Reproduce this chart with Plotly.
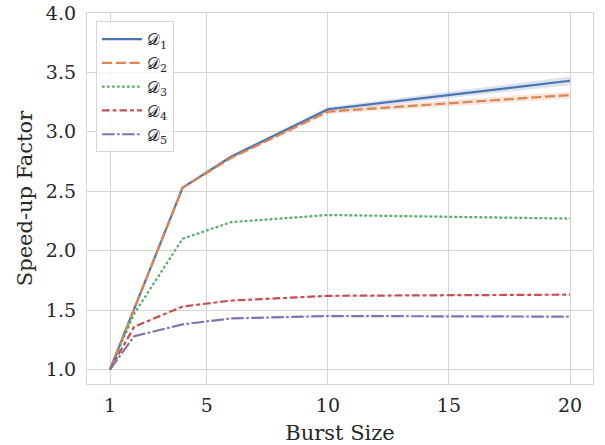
import plotly.graph_objects as go

burst = [1, 2, 4, 6, 10, 20]
names = ["𝒟<sub>1</sub>", "𝒟<sub>2</sub>", "𝒟<sub>3</sub>", "𝒟<sub>4</sub>", "𝒟<sub>5</sub>"]
d1 = [1.0, 1.51, 2.53, 2.79, 3.19, 3.43]
d2 = [1.0, 1.51, 2.53, 2.78, 3.17, 3.31]
d3 = [1.0, 1.47, 2.10, 2.24, 2.30, 2.27]
d4 = [1.0, 1.36, 1.53, 1.58, 1.62, 1.63]
d5 = [1.0, 1.28, 1.38, 1.43, 1.45, 1.445]
ci1 = [0.0, 0.01, 0.01, 0.01, 0.02, 0.035]
ci2 = [0.0, 0.01, 0.01, 0.01, 0.02, 0.03]
ci3 = [0.0, 0.005, 0.005, 0.005, 0.008, 0.008]
ci4 = [0.0, 0.004, 0.004, 0.004, 0.005, 0.005]
ci5 = [0.0, 0.003, 0.003, 0.003, 0.004, 0.004]

series = [d1, d2, d3, d4, d5]
cis = [ci1, ci2, ci3, ci4, ci5]
colors = ["#4C72B0", "#DD8452", "#55A868", "#C44E52", "#8172B3"]
fills = ["rgba(76,114,176,0.2)", "rgba(221,132,82,0.2)", "rgba(85,168,104,0.2)",
         "rgba(196,78,82,0.2)", "rgba(129,114,179,0.2)"]
dashes = ["solid", "10px,3.75px", "2.5px,2.5px", "7.5px,3.1px,3.75px,3.1px",
          "12.5px,2.5px,2.5px,2.5px"]

fig = go.Figure()
for s, c, f in zip(series, cis, fills):
    upper = [v + e for v, e in zip(s, c)]
    lower = [v - e for v, e in zip(s, c)]
    fig.add_trace(go.Scatter(x=burst + burst[::-1], y=upper + lower[::-1], fill="toself",
                             fillcolor=f, line=dict(width=0), mode="lines",
                             showlegend=False, hoverinfo="skip"))
for s, n, col, d in zip(series, names, colors, dashes):
    fig.add_trace(go.Scatter(x=burst, y=s, name=n, mode="lines",
                             line=dict(color=col, width=2.2, dash=d)))

axis_common = dict(showgrid=True, gridcolor="#d5d5d5", gridwidth=1.2, showline=True,
                   linecolor="#d5d5d5", linewidth=1.3, mirror=True, zeroline=False,
                   ticks="", automargin=False, tickfont=dict(size=19, color="#262626"))
fig.update_layout(
    width=605, height=445,
    margin=dict(l=87, r=12, t=13, b=61),
    paper_bgcolor="white", plot_bgcolor="white",
    font=dict(family="DejaVu Serif", color="#262626"),
    xaxis=dict(range=[0.05, 20.95], tickvals=[1, 5, 10, 15, 20], ticklabelstandoff=4,
               title=dict(text="Burst Size", font=dict(size=21), standoff=10), **axis_common),
    yaxis=dict(range=[0.878, 4.0], tickvals=[1.0, 1.5, 2.0, 2.5, 3.0, 3.5, 4.0],
               ticktext=["1.0", "1.5", "2.0", "2.5", "3.0", "3.5", "4.0"], ticklabelstandoff=6,
               title=dict(text="Speed-up Factor", font=dict(size=21), standoff=7), **axis_common),
    legend=dict(x=0.018, y=0.978, xanchor="left", yanchor="top",
                bgcolor="rgba(255,255,255,0.8)", bordercolor="#d5d5d5", borderwidth=1,
                font=dict(size=16, color="#262626"), tracegroupgap=0, itemwidth=40),
    showlegend=True,
)
fig.write_html("out.html", config={"displayModeBar": False},
               post_script="document.body.style.margin='0px';document.body.style.padding='0px';")
